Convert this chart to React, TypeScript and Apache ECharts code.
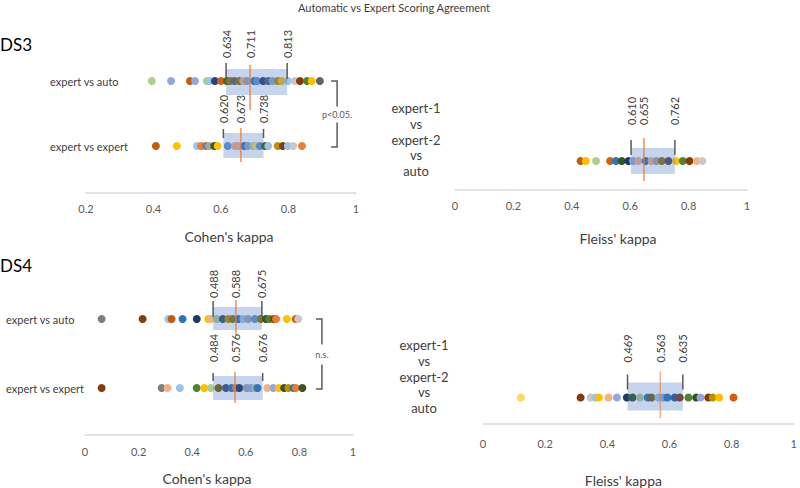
import React, { useEffect, useRef } from "react";
import * as echarts from "echarts";

const FONT = "Lato, 'Open Sans', sans-serif";

// ---------- categories ----------
const cohenRows = ["expert vs auto", "expert vs expert"];
const fleissRows = ["expert-1\nvs\nexpert-2\nvs\nauto"];

// ---------- tick labels ----------
const ds3CohenTicks = ["0.2", "0.4", "0.6", "0.8", "1"];
const fleissTicks = ["0", "0.2", "0.4", "0.6", "0.8", "1"];
const ds4CohenTicks = ["0", "0.2", "0.4", "0.6", "0.8", "1"];

// ---------- DS3 Cohen's kappa ----------
const ds3AutoValues = [0.395, 0.452, 0.508, 0.523, 0.558, 0.567, 0.582, 0.6, 0.617, 0.627, 0.64, 0.654, 0.666, 0.677, 0.698, 0.707, 0.725, 0.74, 0.753, 0.768, 0.78, 0.799, 0.819, 0.834, 0.855, 0.869, 0.893];
const ds3AutoColors = ["#A9D18E", "#8FAADC", "#C55A11", "#8FAADC", "#A9D18E", "#9DC3E6", "#264478", "#D26012", "#43682B", "#997300", "#636363", "#997300", "#F4B183", "#A5A5A5", "#2E75B6", "#5B9BD5", "#264478", "#636363", "#7CAFDD", "#BF9000", "#FFC000", "#9DC3E6", "#C9C9C9", "#843C0C", "#548235", "#FFC000", "#636363"];
const ds3ExpertValues = [0.407, 0.469, 0.529, 0.541, 0.555, 0.565, 0.58, 0.59, 0.62, 0.641, 0.652, 0.669, 0.68, 0.695, 0.703, 0.715, 0.73, 0.74, 0.768, 0.783, 0.798, 0.814, 0.84];
const ds3ExpertColors = ["#C55A11", "#FFC000", "#9DC3E6", "#ED7D31", "#7F7F7F", "#A5A5A5", "#375623", "#FFC000", "#5B9BD5", "#F4B183", "#F4B183", "#2E75B6", "#8FAADC", "#A9D18E", "#FFD966", "#5B9BD5", "#43682B", "#9DC3E6", "#BF9000", "#843C0C", "#9DC3E6", "#C9C9C9", "#ED7D31"];
const ds3CohenStats = [[0.615, 0.686, 0.796], [0.607, 0.659, 0.726]];
const ds3CohenStatLabels = [["0.634", "0.711", "0.813"], ["0.620", "0.673", "0.738"]];

// ---------- DS3 Fleiss' kappa ----------
const ds3FleissValues = [0.43, 0.448, 0.483, 0.531, 0.551, 0.571, 0.594, 0.61, 0.628, 0.653, 0.673, 0.69, 0.708, 0.731, 0.757, 0.78, 0.803, 0.828, 0.847];
const ds3FleissColors = ["#C55A11", "#FFC000", "#A9D18E", "#D26012", "#2E75B6", "#375623", "#1F3864", "#8FAADC", "#F4B183", "#2E75B6", "#F4B183", "#A5A5A5", "#997300", "#44546A", "#FFC000", "#548235", "#843C0C", "#F4B183", "#C9C9C9"];
const ds3FleissStats = [[0.603, 0.647, 0.753]];
const ds3FleissStatLabels = [["0.610", "0.655", "0.762"]];

// ---------- DS4 Cohen's kappa ----------
const ds4AutoValues = [0.062, 0.215, 0.311, 0.323, 0.364, 0.417, 0.46, 0.47, 0.491, 0.514, 0.535, 0.551, 0.572, 0.591, 0.609, 0.634, 0.656, 0.675, 0.688, 0.705, 0.713, 0.753, 0.786, 0.796];
const ds4AutoColors = ["#7F7F7F", "#843C0C", "#9DC3E6", "#C55A11", "#2E75B6", "#1F3864", "#FFC000", "#F4B183", "#A9D18E", "#44546A", "#BF9000", "#997300", "#2E75B6", "#9DC3E6", "#A5A5A5", "#5B9BD5", "#997300", "#375623", "#548235", "#843C0C", "#ED7D31", "#FFC000", "#D26012", "#C9C9C9"];
const ds4ExpertValues = [0.062, 0.286, 0.308, 0.354, 0.417, 0.445, 0.469, 0.498, 0.526, 0.547, 0.563, 0.576, 0.603, 0.618, 0.634, 0.644, 0.68, 0.703, 0.723, 0.743, 0.759, 0.778, 0.787, 0.811];
const ds4ExpertColors = ["#843C0C", "#7F7F7F", "#F4B183", "#9DC3E6", "#548235", "#FFC000", "#A9D18E", "#7F6000", "#44546A", "#2E75B6", "#ED7D31", "#1F3864", "#A5A5A5", "#8FAADC", "#A9D18E", "#2E75B6", "#F4B183", "#8FAADC", "#FFC000", "#375623", "#BF9000", "#2E75B6", "#ED7D31", "#375623"];
const ds4CohenStats = [[0.478, 0.563, 0.66], [0.478, 0.56, 0.663]];
const ds4CohenStatLabels = [["0.488", "0.588", "0.675"], ["0.484", "0.576", "0.676"]];

// ---------- DS4 Fleiss' kappa ----------
const ds4FleissValues = [0.122, 0.314, 0.346, 0.362, 0.373, 0.404, 0.431, 0.463, 0.481, 0.505, 0.53, 0.542, 0.564, 0.58, 0.593, 0.617, 0.633, 0.661, 0.686, 0.7, 0.725, 0.739, 0.76, 0.806];
const ds4FleissColors = ["#FFD966", "#843C0C", "#C9C9C9", "#9DC3E6", "#FFC000", "#F4B183", "#8FAADC", "#1F3864", "#375623", "#A9D18E", "#2E75B6", "#7F6000", "#9DC3E6", "#8FAADC", "#2E75B6", "#2F5597", "#843C0C", "#548235", "#375623", "#8FAADC", "#843C0C", "#BF9000", "#FFC000", "#D26012"];
const ds4FleissStats = [[0.465, 0.57, 0.643]];
const ds4FleissStatLabels = [["0.469", "0.563", "0.635"]];

// ---------- significance brackets ----------
const ds3Bracket = { x: 0.944, text: "p<0.05." };
const ds4Bracket = { x: 0.884, text: "n.s." };

type Geo = { tick: number[]; box: number[]; med: number[]; lab: number; medW: number };

function scatter(idx: number, values: number[], colors: string[], row: number) {
  return {
    type: "scatter",
    xAxisIndex: idx,
    yAxisIndex: idx,
    symbolSize: 8,
    z: 2,
    data: values.map((v, i) => ({ value: [v, row], itemStyle: { color: colors[i], opacity: 1 } })),
  };
}

function boxSeries(idx: number, stats: number[][], labels: string[][], geo: Geo[]) {
  return {
    type: "custom",
    xAxisIndex: idx,
    yAxisIndex: idx,
    z: 5,
    data: stats.map((s, i) => [i, s[0], s[1], s[2]]),
    encode: { x: [1, 2, 3], y: 0 },
    renderItem: (params: any, api: any) => {
      const row = api.value(0);
      const lo = api.coord([api.value(1), row]);
      const md = api.coord([api.value(2), row]);
      const hi = api.coord([api.value(3), row]);
      const g = geo[params.dataIndex];
      const labs = labels[params.dataIndex];
      const cy = lo[1];
      const txt = (x: number, t: string) => ({
        type: "text",
        x,
        y: cy + g.lab,
        rotation: Math.PI / 2,
        style: { text: t, align: "left", verticalAlign: "middle", fontSize: 11, fill: "#404040", fontFamily: FONT },
      });
      const tick = (x: number) => ({
        type: "line",
        shape: { x1: x, y1: cy + g.tick[0], x2: x, y2: cy + g.tick[1] },
        style: { stroke: "#595959", lineWidth: 1.5 },
      });
      return {
        type: "group",
        children: [
          { type: "rect", shape: { x: lo[0], y: cy + g.box[0], width: hi[0] - lo[0], height: g.box[1] - g.box[0] }, style: { fill: "rgba(68,114,196,0.3)" } },
          { type: "line", shape: { x1: md[0], y1: cy + g.med[0], x2: md[0], y2: cy + g.med[1] }, style: { stroke: "#ED7D31", lineWidth: g.medW, opacity: 0.85 } },
          tick(lo[0]),
          tick(hi[0]),
          txt(lo[0], labs[0]),
          txt(md[0], labs[1]),
          txt(hi[0], labs[2]),
        ],
      };
    },
  };
}

function bracketSeries(idx: number, b: { x: number; text: string }, gap: number) {
  return {
    type: "custom",
    xAxisIndex: idx,
    yAxisIndex: idx,
    z: 5,
    data: [[b.x, 0, 1]],
    encode: { x: 0, y: [1, 2] },
    renderItem: (_p: any, api: any) => {
      const a = api.coord([api.value(0), api.value(1)]);
      const c = api.coord([api.value(0), api.value(2)]);
      const x = a[0];
      const mid = (a[1] + c[1]) / 2 + 1;
      const st = { stroke: "#595959", lineWidth: 1.5, fill: "none" };
      return {
        type: "group",
        children: [
          { type: "polyline", shape: { points: [[x - 6, a[1]], [x, a[1]], [x, mid - gap]] }, style: st },
          { type: "polyline", shape: { points: [[x, mid + gap], [x, c[1] + 1], [x - 6, c[1] + 1]] }, style: st },
          { type: "text", x, y: mid, style: { text: b.text, align: "center", verticalAlign: "middle", fontSize: 9, fill: "#595959", fontFamily: FONT } },
        ],
      };
    },
  };
}

function xAxisCfg(idx: number, min: number, ticks: string[], name: string, nameGap: number, pad: number[], offset: number, margin: number) {
  return {
    type: "value",
    gridIndex: idx,
    min,
    max: 1,
    interval: 0.2,
    offset,
    axisLine: { show: true, lineStyle: { color: "#D9D9D9", width: 1.5 } },
    axisTick: { show: false },
    splitLine: { show: false },
    axisLabel: { color: "#595959", fontSize: 11, margin, fontFamily: FONT, formatter: (_v: number, i: number) => ticks[i] },
    name,
    nameLocation: "middle",
    nameGap,
    nameTextStyle: { fontSize: 14, color: "#404040", fontFamily: FONT, padding: pad },
  };
}

function yAxisCfg(idx: number, cats: string[], cfg: any) {
  return {
    type: "category",
    gridIndex: idx,
    data: cats,
    inverse: true,
    axisLine: { show: false },
    axisTick: { show: false },
    splitLine: { show: false },
    axisLabel: { color: "#404040", fontFamily: FONT, ...cfg },
  };
}

export default function App() {
  const ref = useRef<HTMLDivElement>(null);
  useEffect(() => {
    document.body.style.margin = "0";
    const chart = echarts.init(ref.current!, undefined, { renderer: "svg" });
    const geoA: Geo[] = [
      { tick: [-18, -2], box: [-12, 14], med: [-16, 29], lab: -23, medW: 1.5 },
      { tick: [-17, -8], box: [-13, 12], med: [-18, 16], lab: -23, medW: 1.5 },
    ];
    const geoB: Geo[] = [{ tick: [-21, -6], box: [-13, 13], med: [-23, 20], lab: -36, medW: 1.5 }];
    const geoC: Geo[] = [
      { tick: [-18, -2], box: [-12, 11], med: [-19, 16], lab: -21, medW: 1.5 },
      { tick: [-15, -7], box: [-12, 12], med: [-16, 15], lab: -26, medW: 1.5 },
    ];
    const geoD: Geo[] = [{ tick: [-23, -8], box: [-15, 13], med: [-26, 21], lab: -35, medW: 1 }];

    const rowLabelStyle = { fontSize: 13, fill: "#404040", fontFamily: FONT, lineHeight: 15.7, align: "center", verticalAlign: "middle" };

    chart.setOption({
      animation: false,
      backgroundColor: "#ffffff",
      textStyle: { fontFamily: FONT },
      grid: [
        { left: 86, top: 48.5, width: 270, height: 130 },
        { left: 455, top: 132, width: 292, height: 58 },
        { left: 85, top: 284.5, width: 268, height: 138 },
        { left: 483, top: 371, width: 314, height: 58 },
      ],
      xAxis: [
        xAxisCfg(0, 0.2, ds3CohenTicks, "Cohen's kappa", 36, [0, 0, 0, 16], 14.5, 10),
        xAxisCfg(1, 0, fleissTicks, "Fleiss' kappa", 41, [0, 0, 0, 34], 0, 10),
        xAxisCfg(2, 0, ds4CohenTicks, "Cohen's kappa", 36, [0, 24, 0, 0], 12.5, 11),
        xAxisCfg(3, 0, fleissTicks, "Fleiss' kappa", 49, [0, 30, 0, 0], 0, 14),
      ],
      yAxis: [
        yAxisCfg(0, cohenRows, { fontSize: 11, align: "left", margin: 36 }),
        yAxisCfg(1, fleissRows, { show: false }),
        yAxisCfg(2, cohenRows, { fontSize: 11, align: "left", margin: 79 }),
        yAxisCfg(3, fleissRows, { show: false }),
      ],
      graphic: [
        { type: "text", x: 394, y: 7, style: { text: "Automatic vs Expert Scoring Agreement", fontSize: 11, fill: "#404040", fontFamily: FONT, align: "center", verticalAlign: "middle" } },
        { type: "text", left: 0, top: 36, style: { text: "DS3", fontSize: 17, fill: "#000000", fontFamily: FONT } },
        { type: "text", left: 0, top: 257, style: { text: "DS4", fontSize: 17, fill: "#000000", fontFamily: FONT } },
        { type: "text", x: 416, y: 139.5, style: { text: fleissRows[0], ...rowLabelStyle } },
        { type: "text", x: 424, y: 376.5, style: { text: fleissRows[0], ...rowLabelStyle } },
      ],
      series: [
        scatter(0, ds3AutoValues, ds3AutoColors, 0),
        scatter(0, ds3ExpertValues, ds3ExpertColors, 1),
        boxSeries(0, ds3CohenStats, ds3CohenStatLabels, geoA),
        bracketSeries(0, ds3Bracket, 8),
        scatter(1, ds3FleissValues, ds3FleissColors, 0),
        boxSeries(1, ds3FleissStats, ds3FleissStatLabels, geoB),
        scatter(2, ds4AutoValues, ds4AutoColors, 0),
        scatter(2, ds4ExpertValues, ds4ExpertColors, 1),
        boxSeries(2, ds4CohenStats, ds4CohenStatLabels, geoC),
        bracketSeries(2, ds4Bracket, 10),
        scatter(3, ds4FleissValues, ds4FleissColors, 0),
        boxSeries(3, ds4FleissStats, ds4FleissStatLabels, geoD),
      ],
    });
    return () => chart.dispose();
  }, []);
  return <div ref={ref} style={{ position: "absolute", left: 0, top: 0, width: 800, height: 488 }} />;
}
